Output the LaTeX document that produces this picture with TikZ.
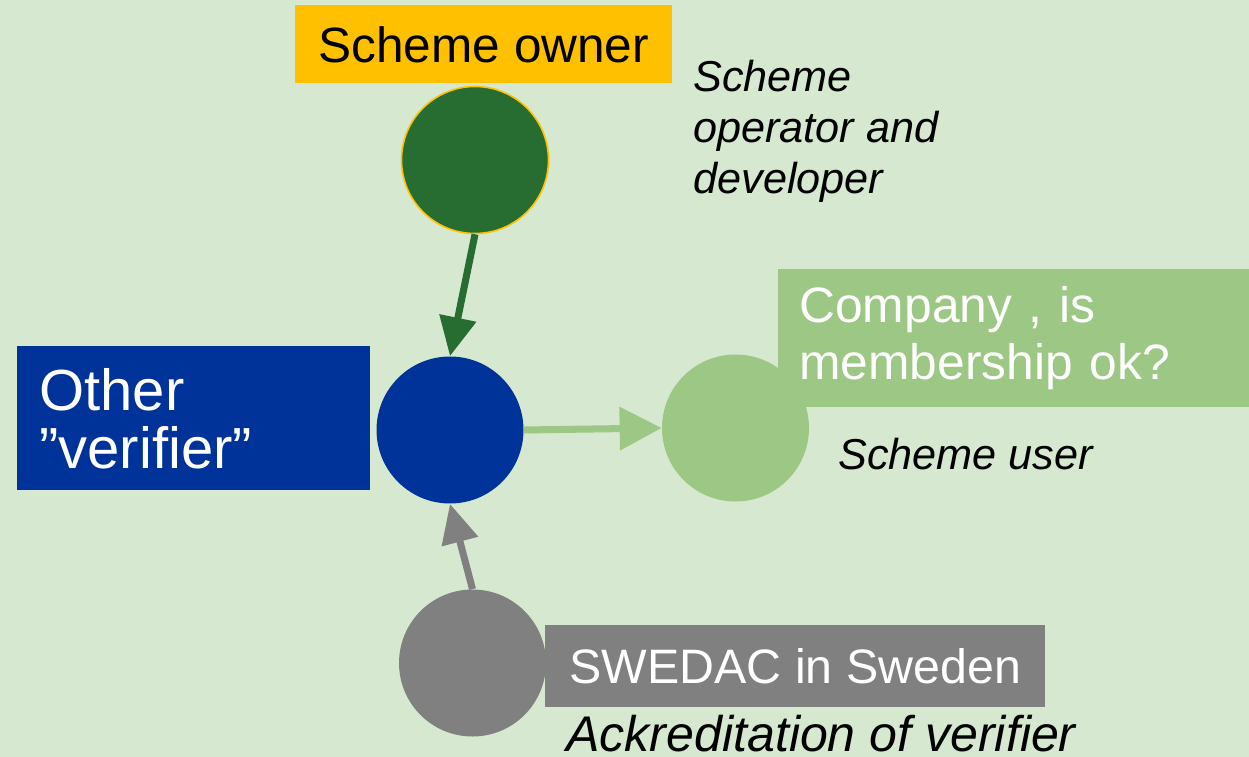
\documentclass[tikz,border=0pt]{standalone}
\usepackage{fontspec}
\setmainfont{Liberation Sans}
\usetikzlibrary{arrows.meta}
\definecolor{bggreen}{RGB}{215,232,208}
\definecolor{ownyellow}{RGB}{255,192,0}
\definecolor{darkgreen}{RGB}{39,108,49}
\definecolor{verblue}{RGB}{0,51,153}
\definecolor{usergreen}{RGB}{157,199,132}
\definecolor{accgray}{RGB}{128,128,128}
\tikzset{
  dot/.style={circle, minimum size=2.94cm, inner sep=0pt},
  tagbox/.style={anchor=north west, inner ysep=0pt, text=white},
  note/.style={font=\itshape\fontsize{24.6}{29}\selectfont, inner sep=0pt, align=left},
  link/.style={line width=4pt, -{Triangle[length=0.78cm,width=0.72cm]}}
}

\begin{document}
\begin{tikzpicture}
\useasboundingbox (0,0) rectangle (24.98,15.12);
\fill[bggreen] (-0.2,-0.2) rectangle (25.2,15.3);
%\draw[step=1cm,gray,very thin] (0,0) grid (25,15); %background grid
\node[dot, fill=darkgreen, draw=ownyellow, line width=0.9pt] (owner) at (9.50,11.92) {}; %owner
\node[dot, fill=verblue] (verifier) at (9.00,6.52) {}; %verifier
\node[dot, fill=usergreen] (user) at (14.71,6.56) {}; %user
\node[dot, fill=accgray] (acc) at (9.45,1.86) {}; %accreditation
\node[tagbox, fill=ownyellow, text=black, minimum width=7.54cm, minimum height=1.56cm, font=\fontsize{28.2}{34}\selectfont] (ownerbox) at (5.90,15.02) {Scheme owner};
\node[tagbox, fill=verblue, inner xsep=0.44cm, text width=6.18cm, minimum height=2.88cm, align=left, font=\fontsize{33}{33}\selectfont] (verifierbox) at (0.34,8.20) {Other\\”verifier”};
\node[tagbox, fill=usergreen, inner xsep=0.42cm, text width=8.58cm, minimum height=2.76cm, align=left, font=\fontsize{28.3}{32.3}\selectfont] (companybox) at (15.56,9.74) {Company , is\\membership ok?};
\node[tagbox, fill=accgray, minimum width=10.0cm, minimum height=1.64cm, font=\fontsize{27.5}{33}\selectfont] (swedacbox) at (10.90,2.62) {SWEDAC in Sweden};
\node[note, anchor=north west] (opnote) at (13.86,13.92) {Scheme\\operator and\\developer};
\node[note, anchor=base west] (usernote) at (16.76,5.74) {Scheme user};
\node[note, anchor=base west, font=\itshape\fontsize{28.5}{34}\selectfont] (accnote) at (11.32,0.10) {Ackreditation of verifier};
\draw[link, darkgreen] (owner.south) -- (verifier.north);
\draw[link, usergreen, -{Triangle[length=0.84cm,width=0.84cm]}] (verifier.east) -- (user.west);
\draw[link, accgray] (acc.north) -- (verifier.south);
\end{tikzpicture}
\end{document}
